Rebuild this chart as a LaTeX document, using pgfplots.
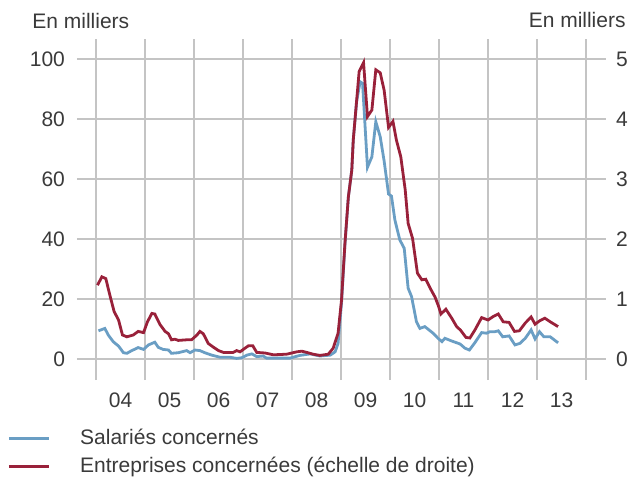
\documentclass[border=0pt]{standalone}
\usepackage{fontspec}
\setmainfont{Liberation Sans}
\usepackage{pgfplots}
\pgfplotsset{compat=1.18}
\definecolor{cBlue}{HTML}{6A9EC4}
\definecolor{cRed}{HTML}{99213A}
\definecolor{cGrid}{HTML}{C4C4C4}
\definecolor{cText}{HTML}{3A3A3A}
\pgfplotsset{
  base/.style={
    scale only axis, width=264.5pt, height=170.5pt,
    xmin=2003.612, xmax=2014.408,
    axis line style={draw=none},
    major tick length=0pt, minor tick length=0pt,
    tick label style={font=\fontsize{10.5}{12}\selectfont, text=cText},
    /pgf/number format/assume math mode=true,
    clip=false,
  }
}

\begin{document}
\begin{tikzpicture}
\useasboundingbox (-38.5pt,-48.5pt) rectangle (276.5pt,190pt);
\begin{axis}[
    base,
    ymin=-7, ymax=106.667,
    ytick={0,20,40,60,80,100},
    ymajorgrids,
    xtick={2004.5,2005.5,2006.5,2007.5,2008.5,2009.5,2010.5,2011.5,2012.5,2013.5},
    xticklabels={04,05,06,07,08,09,10,11,12,13},
    minor xtick={2004,2005,2006,2007,2008,2009,2010,2011,2012,2013,2014},
    xminorgrids,
    grid style={cGrid, line width=0.75pt},
    minor grid style={cGrid, line width=0.75pt},
    yticklabel style={xshift=-2.5pt},
    xticklabel style={yshift=-3pt},
]
\addplot[cBlue, line width=1.4pt] coordinates {
(2004.05,9.4) (2004.18,10.2) (2004.25,8.0) (2004.35,5.8) (2004.46,4.3) (2004.56,2.1)
(2004.63,1.9) (2004.73,2.8) (2004.86,3.8) (2004.97,3.2) (2005.07,4.7) (2005.20,5.6)
(2005.27,3.9) (2005.37,3.2) (2005.48,3.0) (2005.54,1.9) (2005.68,2.1) (2005.85,2.8)
(2005.92,2.1) (2006.02,3.0) (2006.12,2.8) (2006.22,2.1) (2006.36,1.3) (2006.53,0.6)
(2006.73,0.6) (2006.87,0.2) (2006.97,0.4) (2007.08,1.3) (2007.18,1.7) (2007.28,0.8)
(2007.41,1.0) (2007.48,0.3) (2007.96,0.3) (2008.16,1.2) (2008.37,1.7) (2008.57,1.0)
(2008.78,1.3) (2008.88,2.4) (2008.94,5.2) (2009.01,18.6) (2009.08,38) (2009.15,54)
(2009.22,63) (2009.25,73) (2009.32,86) (2009.39,92.4) (2009.44,91.9) (2009.54,63.9)
(2009.63,67.4) (2009.71,79.1) (2009.80,74.1) (2009.88,66) (2009.97,55) (2010.03,54.3)
(2010.10,46.3) (2010.20,39.7) (2010.29,36.9) (2010.37,23.6) (2010.44,20.8) (2010.54,12.4)
(2010.61,10.2) (2010.71,10.8) (2010.88,8.6) (2010.98,6.9) (2011.06,5.8) (2011.12,6.9)
(2011.26,6.0) (2011.43,5.0) (2011.53,3.6) (2011.62,3.0) (2011.73,5.4) (2011.87,8.8)
(2011.97,8.6) (2012.04,9.1) (2012.14,9.1) (2012.21,9.4) (2012.30,7.4) (2012.43,7.7)
(2012.55,4.7) (2012.65,5.2) (2012.76,6.9) (2012.88,9.7) (2012.96,6.7) (2013.05,9.1)
(2013.14,7.4) (2013.27,7.4) (2013.43,5.4)
};
\node[anchor=base west, font=\fontsize{10.5}{12}\selectfont, text=cText, inner sep=0pt]
  at (rel axis cs:0,1) [xshift=-22.5pt, yshift=5.5pt] {En milliers};
\end{axis}
\begin{axis}[
    base,
    ymin=-0.35, ymax=5.3333,
    ytick={0,1,2,3,4,5},
    axis y line*=right,
    hide x axis,
    yticklabel style={xshift=1.5pt},
    legend cell align=left,
    legend image code/.code={\draw[#1] (0pt,0pt) -- (20pt,0pt); \path (27pt,0pt);},
    legend style={draw=none, fill=none, at={(0,0)}, anchor=north west,
      xshift=-35pt, yshift=-22.5pt, inner sep=0pt, row sep=0.5pt,
      font=\fontsize{10.5}{12}\selectfont, text=cText,
      nodes={inner xsep=8pt, inner ysep=2pt}},
]
\addlegendimage{cBlue, line width=1.4pt}
\addlegendentry{Salariés concernés}
\addplot[cRed, line width=1.4pt] coordinates {
(2004.03,1.23) (2004.12,1.37) (2004.20,1.34) (2004.29,1.04) (2004.37,0.79) (2004.46,0.65)
(2004.54,0.40) (2004.63,0.37) (2004.76,0.40) (2004.86,0.46) (2004.97,0.44) (2005.05,0.62)
(2005.14,0.76) (2005.20,0.75) (2005.31,0.57) (2005.41,0.46) (2005.48,0.42) (2005.54,0.32)
(2005.61,0.33) (2005.68,0.31) (2005.85,0.32) (2005.95,0.32) (2006.06,0.40) (2006.12,0.46)
(2006.19,0.42) (2006.29,0.26) (2006.39,0.20) (2006.50,0.14) (2006.60,0.11) (2006.80,0.11)
(2006.87,0.14) (2006.94,0.12) (2007.04,0.18) (2007.11,0.22) (2007.20,0.22) (2007.28,0.11)
(2007.45,0.10) (2007.62,0.07) (2007.89,0.08) (2008.10,0.12) (2008.20,0.13) (2008.30,0.11)
(2008.43,0.08) (2008.57,0.06) (2008.74,0.08) (2008.84,0.18) (2008.94,0.43) (2009.01,0.98)
(2009.08,1.93) (2009.15,2.70) (2009.22,3.15) (2009.25,3.65) (2009.32,4.32) (2009.37,4.79)
(2009.46,4.94) (2009.54,4.04) (2009.63,4.15) (2009.71,4.82) (2009.80,4.77) (2009.88,4.48)
(2009.97,3.86) (2010.06,3.96) (2010.13,3.65) (2010.22,3.37) (2010.31,2.82) (2010.37,2.26)
(2010.46,2.01) (2010.56,1.43) (2010.65,1.32) (2010.73,1.33) (2010.82,1.18) (2010.92,1.03)
(2010.99,0.88) (2011.04,0.75) (2011.14,0.83) (2011.26,0.68) (2011.36,0.54) (2011.44,0.48)
(2011.55,0.36) (2011.63,0.35) (2011.73,0.48) (2011.87,0.69) (2012.00,0.65) (2012.11,0.71)
(2012.21,0.75) (2012.31,0.62) (2012.43,0.61) (2012.54,0.46) (2012.64,0.47) (2012.76,0.60)
(2012.88,0.70) (2012.96,0.58) (2013.06,0.64) (2013.16,0.68) (2013.27,0.62) (2013.43,0.54)
};
\addlegendentry{Entreprises concernées (échelle de droite)}
\node[anchor=base east, font=\fontsize{10.5}{12}\selectfont, text=cText, inner sep=0pt]
  at (rel axis cs:1,1) [xshift=10pt, yshift=5.5pt] {En milliers};
\end{axis}
\end{tikzpicture}
\end{document}
